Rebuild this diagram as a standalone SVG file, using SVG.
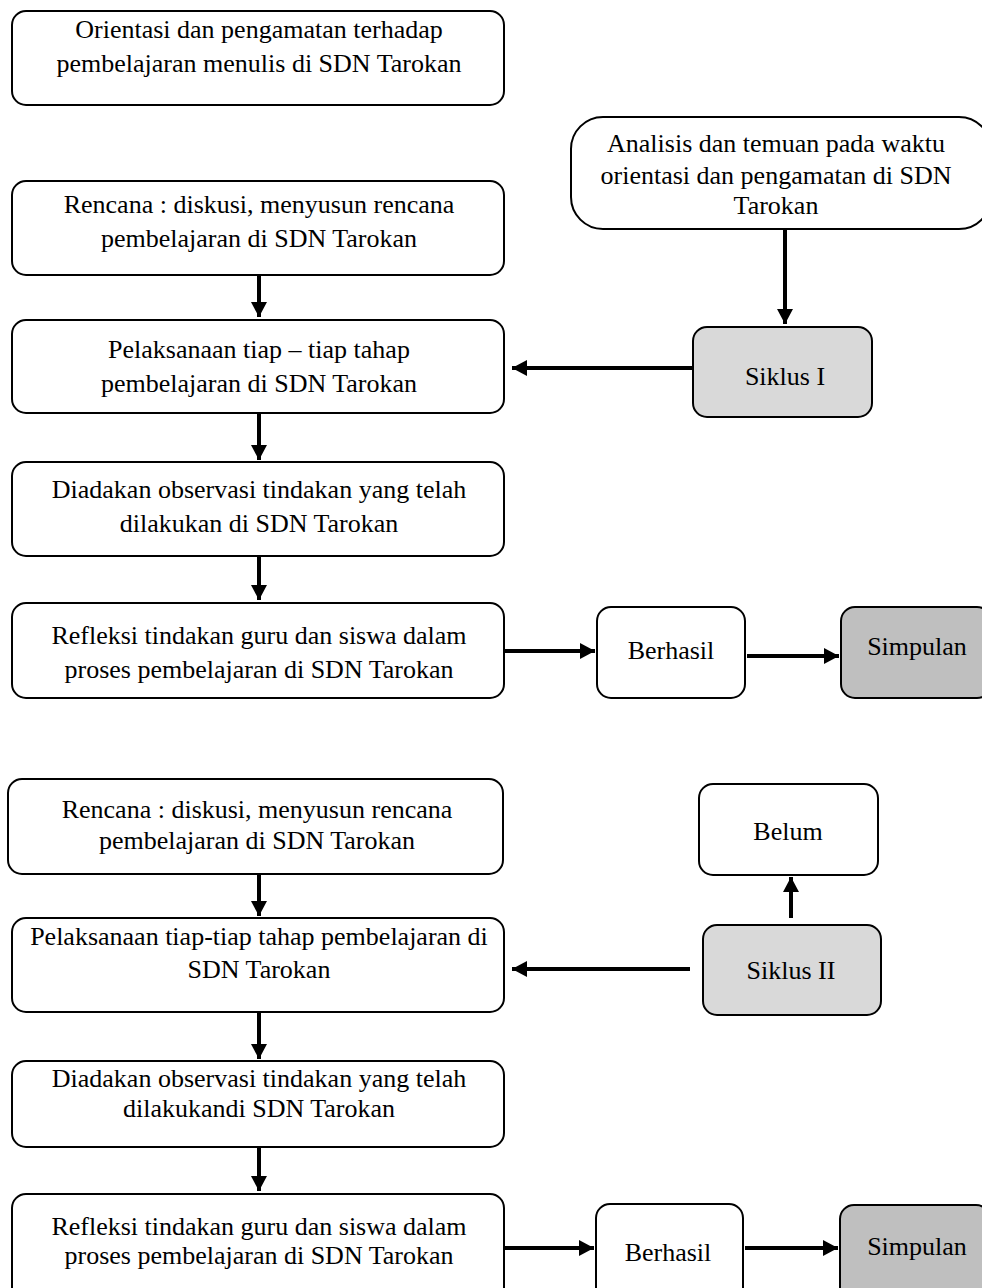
<svg xmlns="http://www.w3.org/2000/svg" width="982" height="1288" viewBox="0 0 982 1288">
<defs>
<style>
.box{fill:#fff;stroke:#000;stroke-width:2}
.g1{fill:#d9d9d9;stroke:#000;stroke-width:2}
.g2{fill:#bfbfbf;stroke:#000;stroke-width:2}
text{font-family:"Liberation Serif","Times New Roman",serif;font-size:26px;fill:#000;text-anchor:middle}
.c{stroke:#000;stroke-width:4;fill:none;marker-end:url(#ah)}
</style>
<marker id="ah" markerUnits="userSpaceOnUse" markerWidth="18" markerHeight="18" refX="15" refY="9" orient="auto">
<path d="M0,1 L15,9 L0,17 Z" fill="#000"/>
</marker>
</defs>
<g id="n1"><rect class="box" x="12" y="11" width="492" height="94" rx="14"/><text x="259" y="38">Orientasi dan pengamatan terhadap</text><text x="259" y="72">pembelajaran menulis di SDN Tarokan</text></g>
<g id="n2"><rect class="box" x="571" y="117" width="420" height="112" rx="32"/><text x="776" y="152">Analisis dan temuan pada waktu</text><text x="776" y="184">orientasi dan pengamatan di SDN</text><text x="776" y="214">Tarokan</text></g>
<g id="n3"><rect class="box" x="12" y="181" width="492" height="94" rx="14"/><text x="259" y="213">Rencana : diskusi, menyusun rencana</text><text x="259" y="247">pembelajaran di SDN Tarokan</text></g>
<g id="n4"><rect class="box" x="12" y="320" width="492" height="93" rx="14"/><text x="259" y="358">Pelaksanaan tiap – tiap tahap</text><text x="259" y="392">pembelajaran di SDN Tarokan</text></g>
<g id="n5"><rect class="g1" x="693" y="327" width="179" height="90" rx="14"/><text x="785" y="385">Siklus I</text></g>
<g id="n6"><rect class="box" x="12" y="462" width="492" height="94" rx="14"/><text x="259" y="498">Diadakan observasi tindakan yang telah</text><text x="259" y="532">dilakukan di SDN Tarokan</text></g>
<g id="n7"><rect class="box" x="12" y="603" width="492" height="95" rx="14"/><text x="259" y="644">Refleksi tindakan guru dan siswa dalam</text><text x="259" y="678">proses pembelajaran di SDN Tarokan</text></g>
<g id="n8"><rect class="box" x="597" y="607" width="148" height="91" rx="14"/><text x="671" y="659">Berhasil</text></g>
<g id="n9"><rect class="g2" x="841" y="607" width="150" height="91" rx="14"/><text x="917" y="655">Simpulan</text></g>
<g id="n10"><rect class="box" x="8" y="779" width="495" height="95" rx="14"/><text x="257" y="818">Rencana : diskusi, menyusun rencana</text><text x="257" y="849">pembelajaran di SDN Tarokan</text></g>
<g id="n11"><rect class="box" x="699" y="784" width="179" height="91" rx="14"/><text x="788" y="840">Belum</text></g>
<g id="n12"><rect class="box" x="12" y="918" width="492" height="94" rx="14"/><text x="259" y="945">Pelaksanaan tiap-tiap tahap pembelajaran di</text><text x="259" y="978">SDN Tarokan</text></g>
<g id="n13"><rect class="g1" x="703" y="925" width="178" height="90" rx="14"/><text x="791" y="979">Siklus II</text></g>
<g id="n14"><rect class="box" x="12" y="1061" width="492" height="86" rx="14"/><text x="259" y="1087">Diadakan observasi tindakan yang telah</text><text x="259" y="1117">dilakukandi SDN Tarokan</text></g>
<g id="n15"><rect class="box" x="12" y="1194" width="492" height="110" rx="14"/><text x="259" y="1235">Refleksi tindakan guru dan siswa dalam</text><text x="259" y="1264">proses pembelajaran di SDN Tarokan</text></g>
<g id="n16"><rect class="box" x="596" y="1204" width="147" height="100" rx="14"/><text x="668" y="1261">Berhasil</text></g>
<g id="n17"><rect class="g2" x="840" y="1205" width="150" height="100" rx="14"/><text x="917" y="1255">Simpulan</text></g>
<g id="connectors">
<line class="c" x1="259" y1="275" x2="259" y2="317"/>
<line class="c" x1="785" y1="229" x2="785" y2="324"/>
<line class="c" x1="693" y1="368" x2="512" y2="368"/>
<line class="c" x1="259" y1="413" x2="259" y2="460"/>
<line class="c" x1="259" y1="556" x2="259" y2="600"/>
<line class="c" x1="504" y1="651" x2="595" y2="651"/>
<line class="c" x1="747" y1="656" x2="839" y2="656"/>
<line class="c" x1="259" y1="874" x2="259" y2="916"/>
<line class="c" x1="791" y1="918" x2="791" y2="877"/>
<line class="c" x1="690" y1="969" x2="512" y2="969"/>
<line class="c" x1="259" y1="1012" x2="259" y2="1059"/>
<line class="c" x1="259" y1="1147" x2="259" y2="1191"/>
<line class="c" x1="504" y1="1248" x2="594" y2="1248"/>
<line class="c" x1="745" y1="1248" x2="838" y2="1248"/>
</g>
</svg>
